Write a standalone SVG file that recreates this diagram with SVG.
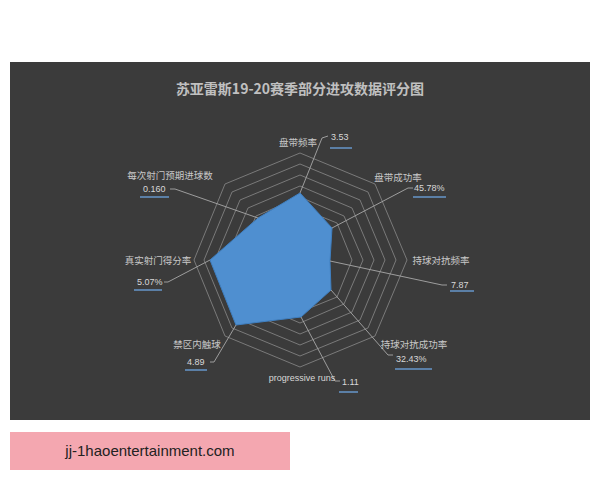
<svg xmlns="http://www.w3.org/2000/svg" width="600" height="480" viewBox="0 0 600 480">
<style>
.l{font-family:"Noto Sans CJK SC","Liberation Sans",sans-serif;font-size:9.5px;fill:#c8c8c8}
.v{font-family:"Liberation Sans","Noto Sans",sans-serif;font-size:9px;fill:#d8d8d8}
.ring{fill:none;stroke:#8a8a8a;stroke-width:0.8}
.lead{fill:none;stroke:#a8a8a8;stroke-width:0.9}
.ul{stroke:#5b7fa6;stroke-width:2}
</style>
<rect width="600" height="480" fill="#fff"/>
<rect x="10" y="62" width="580" height="358" fill="#3b3b3b"/>
<text x="300" y="94" text-anchor="middle" font-family="Noto Sans CJK SC,Liberation Sans,sans-serif" font-size="14" font-weight="bold" fill="#c0c0c0">苏亚雷斯19-20赛季部分进攻数据评分图</text>
<g id="grid">
<polygon class="ring" points="300,153 375,184 407,260 375,336 300,367 225,336 194,260 225,184"/>
<polygon class="ring" points="300,164 368,192 396,260 368,328 300,356 232,328 204,260 232,192"/>
<polygon class="ring" points="300,175 360,200 385,260 360,320 300,345 240,320 215,260 240,200"/>
<polygon class="ring" points="300,186 352,208 374,260 352,312 300,334 248,312 226,260 248,208"/>
<polygon class="ring" points="300,197 344,216 363,260 344,304 300,323 256,304 237,260 256,216"/>
<polygon class="ring" points="300,208 337,223 352,260 337,297 300,312 263,297 248,260 263,223"/>
</g>
<g id="data"><polygon points="300,193 332,228 330,261 331,290 301,317 236,325 210,260 258,218" fill="#4f8fd0" stroke="#3f7fc0" stroke-width="1"/></g>
<g id="connectors">
<polyline class="lead" points="300,193 322,138 328,136"/>
<polyline class="lead" points="332,228 408,188 413,188"/>
<polyline class="lead" points="330,261 442,285 447,285"/>
<polyline class="lead" points="331,290 388,355 393,355"/>
<polyline class="lead" points="301,317 335,381 340,381"/>
<polyline class="lead" points="236,325 214,362 210,362"/>
<polyline class="lead" points="210,260 168,282 164,282"/>
<polyline class="lead" points="258,218 175,189 170,189"/>
</g>
<g id="labels">
<text class="l" x="298" y="146" text-anchor="middle">盘带频率</text>
<text class="v" x="331" y="140">3.53</text><line class="ul" x1="330" y1="148" x2="352" y2="148"/>
<text class="l" x="398" y="181" text-anchor="middle">盘带成功率</text>
<text class="v" x="414" y="191">45.78%</text><line class="ul" x1="413" y1="197" x2="446" y2="197"/>
<text class="l" x="441" y="264" text-anchor="middle">持球对抗频率</text>
<text class="v" x="451" y="288">7.87</text><line class="ul" x1="450" y1="291" x2="474" y2="291"/>
<text class="l" x="414" y="348" text-anchor="middle">持球对抗成功率</text>
<text class="v" x="396" y="362">32.43%</text><line class="ul" x1="395" y1="369" x2="432" y2="369"/>
<text class="v" x="302" y="381" text-anchor="middle" font-size="9">progressive runs</text>
<text class="v" x="342" y="385">1.11</text><line class="ul" x1="339" y1="392" x2="358" y2="392"/>
<text class="l" x="197" y="348" text-anchor="middle">禁区内触球</text>
<text class="v" x="187" y="365">4.89</text><line class="ul" x1="185" y1="370" x2="207" y2="370"/>
<text class="l" x="158" y="264" text-anchor="middle">真实射门得分率</text>
<text class="v" x="137" y="285">5.07%</text><line class="ul" x1="134" y1="290" x2="162" y2="290"/>
<text class="l" x="170" y="179" text-anchor="middle">每次射门预期进球数</text>
<text class="v" x="143" y="192">0.160</text><line class="ul" x1="140" y1="197" x2="169" y2="197"/>
</g>
<rect x="10" y="432" width="280" height="38" fill="#f4a7b0"/>
<text x="150" y="456" text-anchor="middle" font-family="Liberation Sans,sans-serif" font-size="15" fill="#222">jj-1haoentertainment.com</text>
</svg>
